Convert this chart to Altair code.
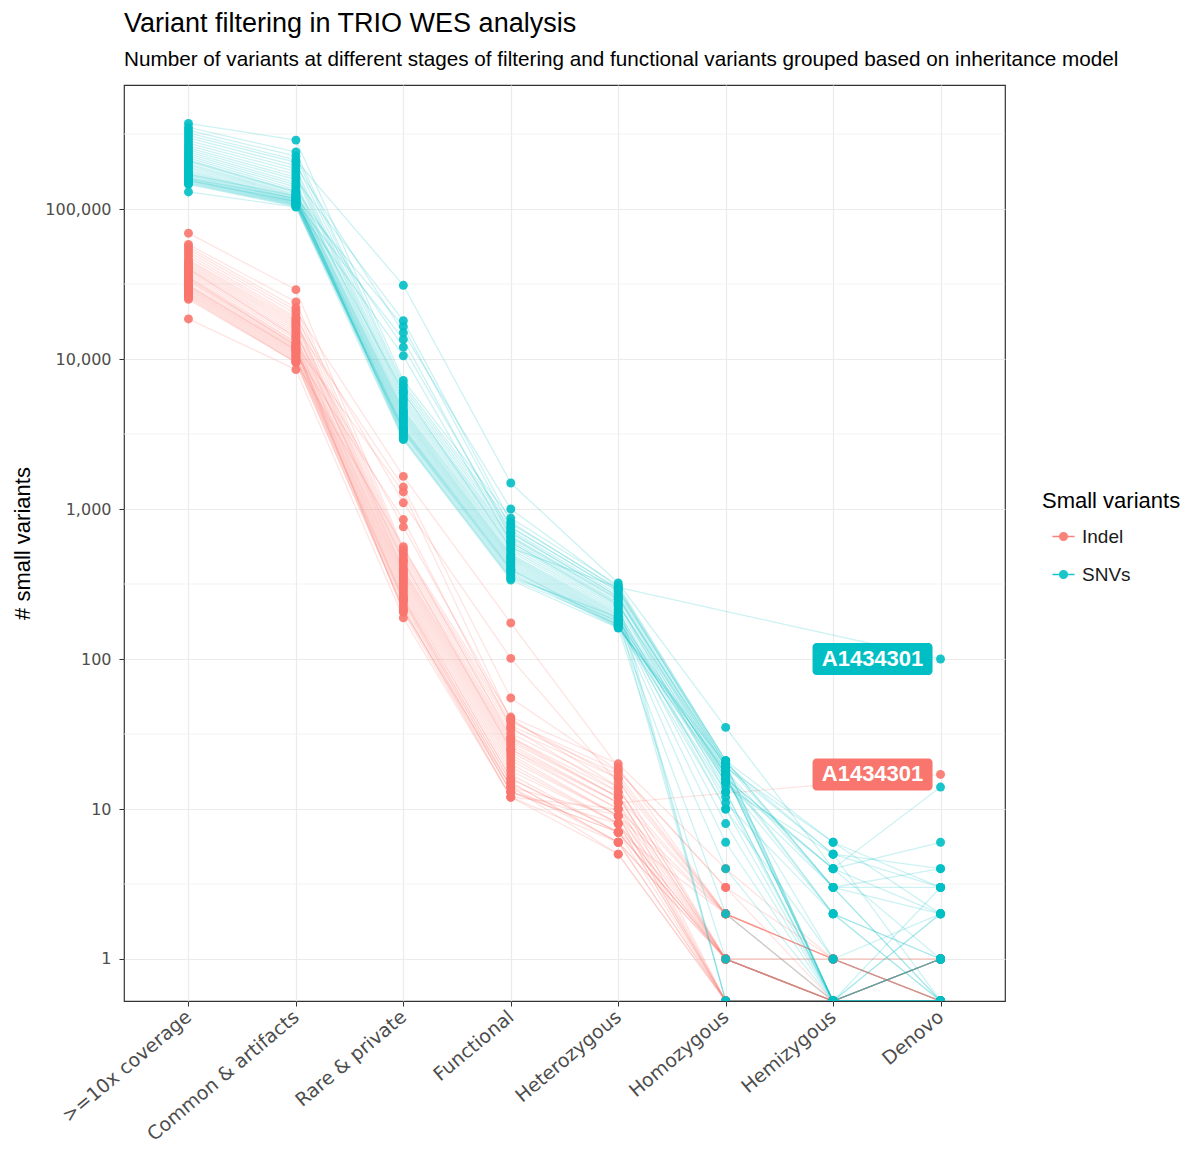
import altair as alt
import pandas as pd

STAGES = [">=10x coverage", "Common & artifacts", "Rare & private", "Functional",
          "Heterozygous", "Homozygous", "Hemizygous", "Denovo"]
TYPES = ["Indel", "SNVs"]
COLORS = ["#F8766D", "#00BFC4"]
HIGHLIGHT = "A1434301"
SAMPLES = ["S01", "S02", "S03", "S04", "S05", "S06", "S07", "S08", "S09", "S10",
           "S11", "S12", "S13", "S14", "S15", "S16", "S17", "S18", "S19", "S20",
           "S21", "S22", "S23", "S24", "S25", "S26", "S27", "S28", "S29", "S30",
           "S31", "S32", "S33", "S34", "S35", "S36", "S37", "S38", "S39", HIGHLIGHT]

# ---- SNVs per stage (one value per sample, same order as SAMPLES) ----
SNV_COVERAGE = [372000, 350000, 335000, 322000, 310000, 298000, 286000, 275000, 265000, 256000,
                248000, 240000, 233000, 226000, 219000, 213000, 207000, 201000, 196000, 191000,
                186000, 181000, 177000, 173000, 169000, 166000, 163000, 160000, 158000, 156000,
                154000, 152000, 150000, 148000, 146000, 160000, 170000, 155000, 130000, 210000]
SNV_COMMON = [288000, 240000, 225000, 212000, 205000, 195000, 186000, 178000, 170000, 163000,
              157000, 150000, 145000, 140000, 135000, 131000, 128000, 125000, 123000, 121000,
              119000, 117000, 116000, 115000, 114000, 113000, 112000, 111000, 110000, 109000,
              108000, 107000, 106000, 105000, 104000, 118000, 122000, 112000, 103000, 130000]
SNV_RARE = [7200, 6800, 6500, 31000, 6200, 15000, 5900, 5600, 5400, 5200,
            18000, 5000, 4800, 4600, 12000, 4500, 4400, 4300, 4200, 4100,
            16500, 4000, 3900, 3800, 3700, 3600, 3500, 13500, 3450, 3400,
            3350, 3300, 3250, 10500, 3200, 3100, 3000, 2950, 2900, 6000]
SNV_FUNCTIONAL = [870, 800, 760, 1490, 720, 1000, 690, 660, 640, 620,
                  820, 600, 580, 560, 700, 540, 520, 500, 490, 480,
                  750, 470, 460, 450, 440, 430, 420, 650, 410, 400,
                  395, 390, 380, 600, 370, 360, 350, 345, 336, 550]
SNV_HET = [310, 295, 280, 321, 270, 300, 262, 255, 248, 240,
           290, 235, 228, 222, 260, 216, 210, 205, 200, 196,
           285, 192, 188, 185, 182, 179, 176, 250, 173, 170,
           168, 166, 164, 230, 162, 178, 190, 170, 161, 300]
SNV_HOM = [21, 20, 19, 35, 18, 21, 17, 16, 0, 15,
           20, 13, 18, 0, 19, 17, 11, 16, 10, 15,
           21, 0, 8, 14, 6, 17, 4, 20, 12, 2,
           16, 13, 18, 19, 1, 15, 17, 10, 20, None]
SNV_HEMI = [6, 0, 5, 4, 0, 3, 0, 4, 0, 2,
            5, 0, 3, 0, 6, 0, 2, 1, 0, 4,
            3, 0, 0, 5, 0, 2, 0, 3, 0, 0,
            4, 0, 2, 0, 0, 3, 0, 1, 0, None]
SNV_DENOVO = [2, 0, 3, 14, 1, 0, 2, 6, 0, 1,
              4, 0, 2, 0, 3, 1, 0, 2, 0, 1,
              3, 0, 1, 0, 2, 0, 0, 4, 1, 0,
              2, 0, 1, 3, 0, 0, 1, 0, 0, 100]

# ---- Indels per stage ----
INDEL_COVERAGE = [69000, 58000, 56000, 54000, 52000, 50000, 48000, 46000, 45000, 44000,
                  43000, 42000, 41000, 40000, 39000, 38000, 37000, 36000, 35000, 34000,
                  33500, 33000, 32000, 31000, 30500, 30000, 29500, 29000, 28500, 28000,
                  27500, 27000, 26500, 26000, 25500, 25000, 31000, 35000, 18500, 40000]
INDEL_COMMON = [29000, 24000, 22000, 21000, 20000, 19000, 18500, 18000, 17500, 17000,
                16500, 16000, 15500, 15000, 14500, 14000, 13500, 13000, 12800, 12500,
                12300, 12000, 11800, 11600, 11400, 11200, 11000, 10800, 10600, 10400,
                10200, 10000, 9800, 9600, 9500, 9500, 11500, 12200, 8500, 14000]
INDEL_RARE = [540, 520, 500, 1650, 480, 1100, 460, 440, 420, 400,
              1400, 390, 380, 370, 760, 360, 350, 340, 330, 320,
              1300, 310, 300, 290, 280, 270, 260, 850, 255, 250,
              245, 240, 230, 560, 220, 215, 210, 205, 188, 450]
INDEL_FUNCTIONAL = [41, 38, 36, 174, 34, 101, 32, 30, 29, 28,
                    55, 27, 26, 25, 40, 24, 23, 22, 21, 20,
                    39, 19, 18, 17, 16, 16, 15, 35, 15, 14,
                    14, 13, 13, 30, 12, 13, 14, 12, 12, 25]
INDEL_HET = [20, 18, 17, 19, 16, 15, 14, 13, 12, 12,
             18, 11, 11, 10, 14, 10, 9, 9, 9, 8,
             16, 8, 8, 7, 7, 7, 6, 13, 6, 6,
             5, 7, 8, 12, 6, 7, 9, 10, 5, 11]
INDEL_HOM = [4, 3, 2, 2, 1, 2, 1, 0, 2, 1,
             3, 0, 1, 2, 1, 0, 1, 2, 0, 1,
             2, 1, 0, 1, 2, 0, 1, 2, 0, 1,
             0, 1, 0, 1, 0, 1, 0, 1, 0, None]
INDEL_HEMI = [1, 0, 1, 0, 0, 1, 0, 0, 1, 0,
              1, 0, 0, 1, 0, 0, 0, 1, 0, 0,
              1, 0, 0, 0, 1, 0, 0, 0, 0, 1,
              0, 0, 0, 1, 0, 0, 0, 0, 0, None]
INDEL_DENOVO = [1, 0, 1, 1, 0, 0, 1, 0, 0, 1,
                0, 0, 1, 0, 0, 1, 0, 0, 1, 0,
                0, 1, 0, 0, 0, 1, 0, 0, 1, 0,
                0, 0, 1, 0, 0, 1, 0, 0, 0, 17]

Y_TICKS = [1, 10, 100, 1000, 10000, 100000]
MINOR_BREAKS = [3.162, 31.62, 316.2, 3162, 31623, 316228]
Y_DOMAIN = [0.5248, 671000]

series = {
    "SNVs": [SNV_COVERAGE, SNV_COMMON, SNV_RARE, SNV_FUNCTIONAL, SNV_HET, SNV_HOM, SNV_HEMI, SNV_DENOVO],
    "Indel": [INDEL_COVERAGE, INDEL_COMMON, INDEL_RARE, INDEL_FUNCTIONAL, INDEL_HET, INDEL_HOM, INDEL_HEMI, INDEL_DENOVO],
}
rows = []
for t in TYPES:
    for si, stage in enumerate(STAGES):
        for sample, v in zip(SAMPLES, series[t][si]):
            if v is None:
                continue
            rows.append({"sample": sample, "type": t, "stage": stage, "idx": si,
                         "value": v, "key": sample + "|" + t})
df = pd.DataFrame(rows)

FONT = "Liberation Sans"
yscale = alt.Scale(type="log", domain=Y_DOMAIN, nice=False, zero=False)
xscale = alt.Scale(type="point", domain=STAGES, padding=0.6)
cscale = alt.Scale(domain=TYPES, range=COLORS)

base = alt.Chart(df).transform_calculate(
    pv=f"datum.value > 0 ? datum.value : {Y_DOMAIN[0]}"
)

x_enc = alt.X("stage:N", scale=xscale, sort=STAGES, title=None,
              axis=alt.Axis(labelAngle=320, labelAlign="right", labelBaseline="middle",
                            labelFontSize=19, labelFont="DejaVu Sans", labelColor="#4d4d4d",
                            labelPadding=8, labelLimit=400, tickSize=5, grid=True, domain=False))
y_enc = alt.Y("pv:Q", scale=yscale, title="# small variants",
              axis=alt.Axis(values=Y_TICKS, format=",", labelFontSize=16, labelFont="DejaVu Sans",
                            labelColor="#4d4d4d", tickSize=5, labelPadding=8, grid=True, domain=False,
                            titleFont=FONT, titleFontSize=22, titleFontWeight="normal",
                            titleColor="#000000", titleAngle=270, titleX=-102, titleY=458,
                            titleAlign="center", titleBaseline="middle"))

minor = alt.Chart(pd.DataFrame({"m": MINOR_BREAKS})).mark_rule(
    color="#f0f0f0", strokeWidth=0.8
).encode(y=alt.Y("m:Q", scale=yscale))

lines = base.mark_line(strokeWidth=1.3, opacity=0.2, clip=True).encode(
    x=x_enc, y=y_enc,
    color=alt.Color("type:N", scale=cscale, title="Small variants",
                    legend=alt.Legend(
                        orient="none", legendX=918, legendY=406,
                        titleFont=FONT, titleFontSize=22, titleFontWeight="normal", titleColor="#000000",
                        labelFont=FONT, labelFontSize=19, labelColor="#1a1a1a",
                        symbolType="M-1.3,0H1.3M0.45,0A0.45,0.45,0,1,1,-0.45,0A0.45,0.45,0,1,1,0.45,0Z",
                        symbolSize=289, symbolStrokeWidth=1.5, rowPadding=18, titlePadding=14,
                        symbolOffset=12, labelOffset=9, symbolOpacity=0.9)),
    detail="key:N",
    order=alt.Order("idx:Q"),
)

points = base.mark_circle(size=80, opacity=0.9, clip=True).encode(
    x=alt.X("stage:N", scale=xscale, sort=STAGES),
    y=alt.Y("pv:Q", scale=yscale),
    color=alt.Color("type:N", scale=cscale),
)

lab = base.transform_filter(
    (alt.datum.sample == HIGHLIGHT) & (alt.datum.stage == "Denovo")
)
boxes = lab.mark_rect(cornerRadius=4, xOffset=-128, x2Offset=-8, yOffset=-16, y2Offset=16).encode(
    x=alt.X("stage:N", scale=xscale, sort=STAGES), x2="stage:N",
    y=alt.Y("pv:Q", scale=yscale), y2="pv:Q",
    color=alt.Color("type:N", scale=cscale),
)
texts = lab.mark_text(dx=-68, align="center", baseline="middle", fontSize=22,
                      fontWeight="bold", font=FONT, color="white").encode(
    x=alt.X("stage:N", scale=xscale, sort=STAGES),
    y=alt.Y("pv:Q", scale=yscale),
    text="sample:N",
)

chart = alt.layer(minor, lines, points, boxes, texts).properties(
    width=881, height=916,
    title=alt.TitleParams(
        text="Variant filtering in TRIO WES analysis",
        subtitle="Number of variants at different stages of filtering and functional variants grouped based on inheritance model",
        anchor="start", frame="group", font=FONT, fontSize=27, fontWeight="normal", color="#000000",
        subtitleFont=FONT, subtitleFontSize=20.7, subtitleColor="#000000",
        offset=14, subtitlePadding=12),
    autosize=alt.AutoSizeParams(type="none"),
    padding={"left": 116, "top": 77, "right": 187, "bottom": 149},
).configure_view(
    stroke="#333333", strokeWidth=1.2
).configure_axis(
    gridColor="#ebebeb", gridWidth=1.2, tickColor="#333333"
)

chart.save("out.html", embed_options={"renderer": "svg", "actions": False})
